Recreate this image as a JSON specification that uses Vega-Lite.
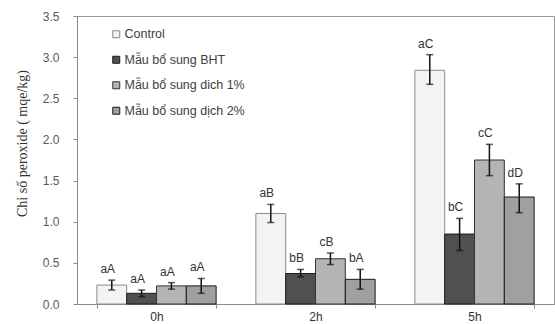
{
  "$schema": "https://vega.github.io/schema/vega-lite/v6.json",
  "autosize": {"type": "none"},
  "width": 477,
  "height": 288,
  "padding": {"left": 77, "top": 16, "right": 1, "bottom": 20},
  "background": "white",
  "config": {
    "view": {"stroke": "#9a9a9a", "strokeWidth": 1},
    "axis": {"grid": false, "domainColor": "#8a8a8a", "tickColor": "#8a8a8a", "labelFont": "Liberation Sans", "labelFontSize": 12}
  },
  "data": {"values": [
    {"t": "0h", "s": "Control", "v": 0.23, "lo": 0.17, "hi": 0.29, "lab": "aA"},
    {"t": "0h", "s": "Mẫu bổ sung BHT", "v": 0.13, "lo": 0.09, "hi": 0.17, "lab": "aA"},
    {"t": "0h", "s": "Mẫu bổ sung dich 1%", "v": 0.22, "lo": 0.18, "hi": 0.26, "lab": "aA"},
    {"t": "0h", "s": "Mẫu bổ sung dịch 2%", "v": 0.22, "lo": 0.13, "hi": 0.31, "lab": "aA"},
    {"t": "2h", "s": "Control", "v": 1.10, "lo": 0.99, "hi": 1.21, "lab": "aB"},
    {"t": "2h", "s": "Mẫu bổ sung BHT", "v": 0.37, "lo": 0.33, "hi": 0.42, "lab": "bB"},
    {"t": "2h", "s": "Mẫu bổ sung dich 1%", "v": 0.55, "lo": 0.48, "hi": 0.62, "lab": "cB"},
    {"t": "2h", "s": "Mẫu bổ sung dịch 2%", "v": 0.30, "lo": 0.18, "hi": 0.42, "lab": "bA"},
    {"t": "5h", "s": "Control", "v": 2.84, "lo": 2.67, "hi": 3.03, "lab": "aC"},
    {"t": "5h", "s": "Mẫu bổ sung BHT", "v": 0.85, "lo": 0.65, "hi": 1.04, "lab": "bC"},
    {"t": "5h", "s": "Mẫu bổ sung dich 1%", "v": 1.75, "lo": 1.56, "hi": 1.94, "lab": "cC"},
    {"t": "5h", "s": "Mẫu bổ sung dịch 2%", "v": 1.30, "lo": 1.11, "hi": 1.46, "lab": "dD"}
  ]},
  "encoding": {
    "x": {"field": "t", "type": "nominal", "scale": {"paddingInner": 0.25, "paddingOuter": 0.125},
      "axis": {"title": null, "labelAngle": 0, "tickBand": "extent", "tickSize": 4, "labelPadding": 3, "labelColor": "#333333", "labelFontSize": 12}},
    "xOffset": {"field": "s", "type": "nominal", "scale": {"domain": ["Control", "Mẫu bổ sung BHT", "Mẫu bổ sung dich 1%", "Mẫu bổ sung dịch 2%"], "paddingInner": 0, "paddingOuter": 0}}
  },
  "layer": [
    {
      "mark": {"type": "bar", "strokeWidth": 1},
      "encoding": {
        "y": {"field": "v", "type": "quantitative", "scale": {"domain": [0, 3.5]},
          "axis": {"title": "Chỉ số peroxide ( mqe/kg)", "titleFont": "Liberation Serif", "titleFontSize": 14, "titleFontWeight": "normal", "titleColor": "#333333", "titleY": 127, "values": [0, 0.5, 1, 1.5, 2, 2.5, 3, 3.5], "format": ".1f", "tickSize": 4, "labelPadding": 14, "labelColor": "#595959", "titlePadding": 13}},
        "fill": {"field": "s", "type": "nominal",
          "scale": {"domain": ["Control", "Mẫu bổ sung BHT", "Mẫu bổ sung dich 1%", "Mẫu bổ sung dịch 2%"], "range": ["#f3f3f3", "#505050", "#b4b4b4", "#a0a0a0"]},
          "legend": {"title": null, "orient": "none", "legendX": 33, "legendY": 12, "symbolType": "square", "symbolSize": 49, "symbolStrokeWidth": 1, "labelFont": "Liberation Sans", "labelFontSize": 12.5, "labelColor": "#404040", "rowPadding": 12.5, "labelOffset": 2}},
        "stroke": {"field": "s", "type": "nominal",
          "scale": {"domain": ["Control", "Mẫu bổ sung BHT", "Mẫu bổ sung dich 1%", "Mẫu bổ sung dịch 2%"], "range": ["#8a8a8a", "#1a1a1a", "#333333", "#1a1a1a"]},
          "legend": {"title": null, "orient": "none", "legendX": 33, "legendY": 12, "symbolType": "square", "symbolSize": 49, "symbolStrokeWidth": 1, "labelFont": "Liberation Sans", "labelFontSize": 12.5, "labelColor": "#404040", "rowPadding": 12.5, "labelOffset": 2}}
      }
    },
    {
      "mark": {"type": "rule", "color": "#111111", "strokeWidth": 1.5},
      "encoding": {"y": {"field": "lo", "type": "quantitative"}, "y2": {"field": "hi"}}
    },
    {
      "mark": {"type": "tick", "color": "#111111", "thickness": 1.5, "size": 7},
      "encoding": {"y": {"field": "hi", "type": "quantitative"}}
    },
    {
      "mark": {"type": "tick", "color": "#111111", "thickness": 1.5, "size": 7},
      "encoding": {"y": {"field": "lo", "type": "quantitative"}}
    },
    {
      "mark": {"type": "text", "dy": -11, "dx": -4, "font": "Liberation Sans", "fontSize": 12, "color": "#333333"},
      "encoding": {"y": {"field": "hi", "type": "quantitative"}, "text": {"field": "lab"}}
    }
  ]
}
